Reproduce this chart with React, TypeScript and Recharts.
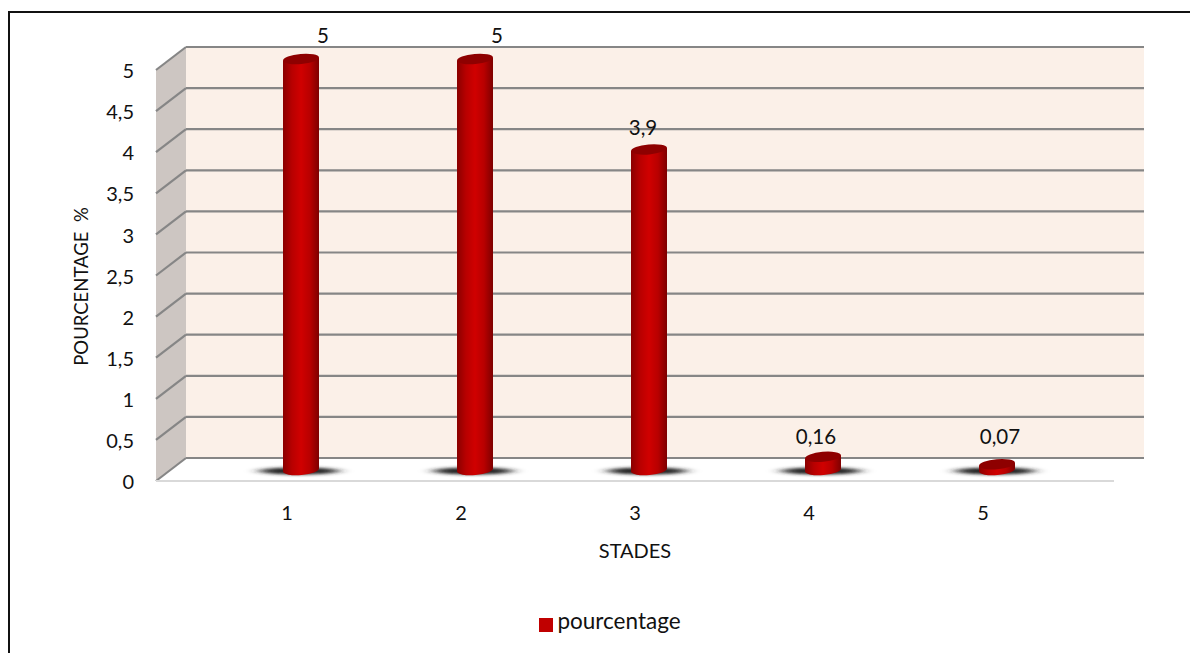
import { Bar, CartesianGrid, ComposedChart, LabelList, Legend, XAxis, YAxis } from "recharts";

const STADES = ["1", "2", "3", "4", "5"];
const POURCENTAGES = [5, 5, 3.9, 0.16, 0.07];
const Y_TICKS = [0, 0.5, 1, 1.5, 2, 2.5, 3, 3.5, 4, 4.5, 5];

// label placement around the top of each cylinder
const LABEL_NUDGE_X = [22, 22, -6, -7, 3];
const LABEL_NUDGE_Y = [-24, -24, -22, -21, -28];

const data = STADES.map((stade, i) => ({ stade, pourcentage: POURCENTAGES[i] }));

const DEPTH_X = 30;
const DEPTH_Y = 23;
const BAR_SHIFT_X = 14;
const BAR_SHIFT_Y = 11;
const FONT = "Lato, 'Open Sans', sans-serif";
const INK = "#111";

const virgule = (v: number | string) => String(v).replace(".", ",");

// back wall and side wall of the 3D box, drawn once from the first grid row
function Walls({ x, y, width, height, index }: any) {
    if (index !== 0) return <g />;
    return (
        <g>
            <rect x={x + DEPTH_X} y={y - DEPTH_Y} width={width} height={height} fill="#fbf0e8" />
            <path
                d={`M${x},${y} L${x + DEPTH_X},${y - DEPTH_Y} V${y + height - DEPTH_Y} L${x},${y + height} Z`}
                fill="#cdc6c2"
            />
        </g>
    );
}

function GridLine({ x1, x2, y1 }: any) {
    return (
        <g stroke="#868686" strokeWidth={2.2} fill="none">
            <line x1={x1} y1={y1} x2={x1 + DEPTH_X} y2={y1 - DEPTH_Y} />
            <line x1={x1 + DEPTH_X} y1={y1 - DEPTH_Y} x2={x2 + DEPTH_X} y2={y1 - DEPTH_Y} />
        </g>
    );
}

function Cylinder({ x, y, width, height }: any) {
    const rx = width / 2;
    const cx = x + rx + BAR_SHIFT_X;
    const top = y - BAR_SHIFT_Y;
    const base = y + height - BAR_SHIFT_Y;
    const tilt = 1.6;
    const ry = 5;
    const left = cx - rx;
    const right = cx + rx;
    return (
        <g>
            <ellipse cx={cx - 2} cy={base + 1} rx={40} ry={3.5} fill="#222" filter="url(#flou)" />
            <path
                d={`M${left},${top + tilt} L${left},${base + tilt} A${rx},${ry} -5 0 0 ${right},${base - tilt} L${right},${top - tilt} Z`}
                fill="url(#cylindre)"
            />
            <ellipse cx={cx} cy={top} rx={rx} ry={ry} fill="#8e0000" transform={`rotate(-5 ${cx} ${top})`} />
        </g>
    );
}

function ValueLabel({ x, y, value, index }: any) {
    return (
        <text
            x={x + 18 + BAR_SHIFT_X + LABEL_NUDGE_X[index]}
            y={y - BAR_SHIFT_Y + LABEL_NUDGE_Y[index]}
            textAnchor="middle"
            dominantBaseline="central"
            fontSize={20.5}
            fontFamily={FONT}
            fill={INK}
        >
            {virgule(value)}
        </text>
    );
}

export default function App() {
    return (
        <div style={{ position: "absolute", left: 0, top: 0, width: 1190, height: 653, background: "#fff", overflow: "hidden" }}>
            <ComposedChart
                width={1190}
                height={653}
                data={data}
                margin={{ top: 70, right: 76, bottom: 0, left: 0 }}
                style={{ fontFamily: FONT }}
            >
                <defs>
                    <linearGradient id="cylindre" x1="0" y1="0" x2="1" y2="0">
                        <stop offset="0%" stopColor="#8a0000" />
                        <stop offset="25%" stopColor="#b80000" />
                        <stop offset="50%" stopColor="#d00000" />
                        <stop offset="75%" stopColor="#b80000" />
                        <stop offset="100%" stopColor="#7e0000" />
                    </linearGradient>
                    <filter id="flou" x="-40%" y="-200%" width="180%" height="500%">
                        <feGaussianBlur stdDeviation="7 1.8" />
                    </filter>
                </defs>
                <CartesianGrid vertical={false} horizontal={Walls as any} />
                <CartesianGrid vertical={false} horizontal={GridLine as any} />
                <XAxis
                    dataKey="stade"
                    height={172}
                    padding={{ left: 44, right: 44 }}
                    axisLine={{ stroke: "#d9d9d9", strokeWidth: 2 }}
                    tickLine={false}
                    tickMargin={19}
                    tick={{ fontSize: 20, fill: INK }}
                    label={{ value: "STADES", position: "insideTop", offset: 63, fontSize: 20, fill: INK }}
                />
                <YAxis
                    domain={[0, 5]}
                    ticks={Y_TICKS}
                    width={156}
                    interval={0}
                    axisLine={false}
                    tickLine={false}
                    tickMargin={16}
                    tickFormatter={virgule}
                    tick={{ fontSize: 20, fill: INK, dy: 1 }}
                    label={{ value: "POURCENTAGE \u00a0%", angle: -90, position: "center", dx: 3, dy: 11, fontSize: 18.5, fill: INK }}
                />
                <Legend
                    layout="horizontal"
                    verticalAlign="middle"
                    align="center"
                    iconType="square"
                    iconSize={14}
                    formatter={(value) => <span style={{ color: INK, fontSize: 22.5 }}>{value}</span>}
                    wrapperStyle={{ top: 607, left: 0, width: 1230 }}
                />
                <Bar dataKey="pourcentage" name="pourcentage" fill="#c00000" barSize={36} shape={Cylinder} isAnimationActive={false}>
                    <LabelList dataKey="pourcentage" content={ValueLabel} />
                </Bar>
            </ComposedChart>
            <div style={{ position: "absolute", left: 8, top: 11, right: 0, bottom: 0, borderTop: "2px solid #111", borderLeft: "2px solid #111" }} />
        </div>
    );
}
